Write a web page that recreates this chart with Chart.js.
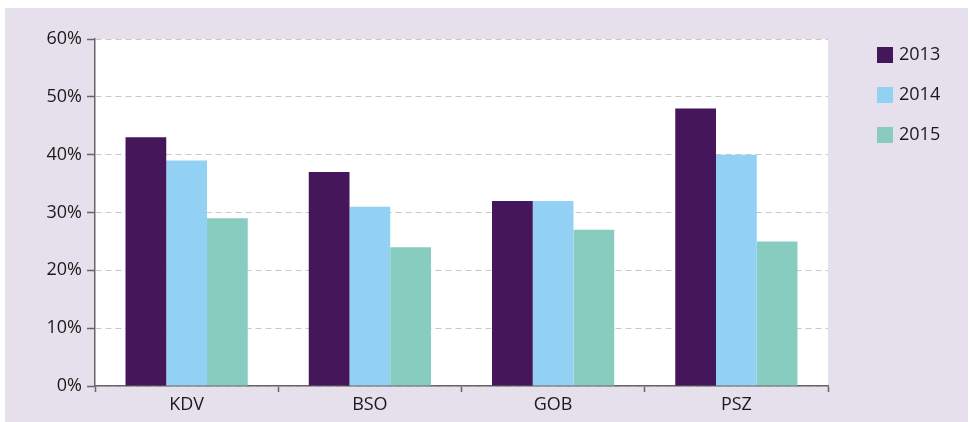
<!DOCTYPE html>
<html>
<head>
<meta charset="utf-8">
<script src="https://cdn.jsdelivr.net/npm/chart.js@4.4.1/dist/chart.umd.min.js"></script>
<style>
  html, body { margin: 0; padding: 0; background: #fff; }
  #wrap { width: 970px; height: 422px; }
</style>
</head>
<body>
<div id="wrap"><canvas id="barChart" width="970" height="422"></canvas></div>
<script>
const categories = ["KDV", "BSO", "GOB", "PSZ"];
const years = ["2013", "2014", "2015"];
const values2013 = [43, 37, 32, 48];
const values2014 = [39, 31, 32, 40];
const values2015 = [29, 24, 27, 25];
const yearColors = ["#45175a", "#92d1f3", "#88cbbf"];
const yTicks = [0, 10, 20, 30, 40, 50, 60];

const FONT = "'Open Sans', 'Noto Sans', sans-serif";

// lavender panel + white plot area
const backdrop = {
  id: "backdrop",
  beforeDraw(chart) {
    const { ctx, chartArea: a } = chart;
    ctx.save();
    ctx.fillStyle = "#e5e0ec";
    ctx.fillRect(5, 8, 963, 414);
    ctx.fillStyle = "#ffffff";
    ctx.fillRect(a.left, a.top, a.right - a.left, a.bottom - a.top);
    ctx.restore();
  }
};

// legend drawn at the right, square swatches
const sideLegend = {
  id: "sideLegend",
  afterDraw(chart) {
    const { ctx } = chart;
    ctx.save();
    ctx.font = "18px " + FONT;
    ctx.textBaseline = "middle";
    chart.data.datasets.forEach((ds, i) => {
      const y = 47 + i * 40;
      ctx.fillStyle = ds.backgroundColor;
      ctx.fillRect(877, y, 16, 16);
      ctx.fillStyle = "#1a1a1a";
      ctx.fillText(ds.label, 899, y + 8);
    });
    ctx.restore();
  }
};

const ctx = document.getElementById("barChart").getContext("2d");
new Chart(ctx, {
  type: "bar",
  data: {
    labels: categories,
    datasets: [
      { label: years[0], data: values2013, backgroundColor: yearColors[0] },
      { label: years[1], data: values2014, backgroundColor: yearColors[1] },
      { label: years[2], data: values2015, backgroundColor: yearColors[2] }
    ]
  },
  options: {
    responsive: false,
    animation: false,
    categoryPercentage: 0.667,
    barPercentage: 1,
    layout: { padding: { top: 39, right: 142, bottom: 0, left: 0 } },
    plugins: {
      legend: { display: false },
      tooltip: { enabled: false }
    },
    scales: {
      x: {
        afterFit: s => { s.height = 36; },
        border: { color: "#666", width: 1.5 },
        grid: {
          offset: true,
          drawOnChartArea: false,
          drawTicks: true,
          tickLength: 6,
          tickColor: "#666",
          tickWidth: 1.5
        },
        ticks: {
          color: "#1a1a1a",
          font: { family: FONT, size: 18 },
          padding: 2
        }
      },
      y: {
        min: 0,
        max: 60,
        afterFit: s => { s.width = 95; },
        afterBuildTicks: s => { s.ticks = yTicks.map(v => ({ value: v })); },
        border: { color: "#666", width: 1.5, dash: [6, 4] },
        grid: {
          color: "#c8c8c8",
          lineWidth: 1,
          tickColor: "#666",
          tickBorderDash: [],
          tickLength: 8,
          tickWidth: 1.5
        },
        ticks: {
          color: "#1a1a1a",
          font: { family: FONT, size: 18 },
          padding: 5,
          callback: v => v + "%"
        }
      }
    }
  },
  plugins: [backdrop, sideLegend]
});
</script>
</body>
</html>
